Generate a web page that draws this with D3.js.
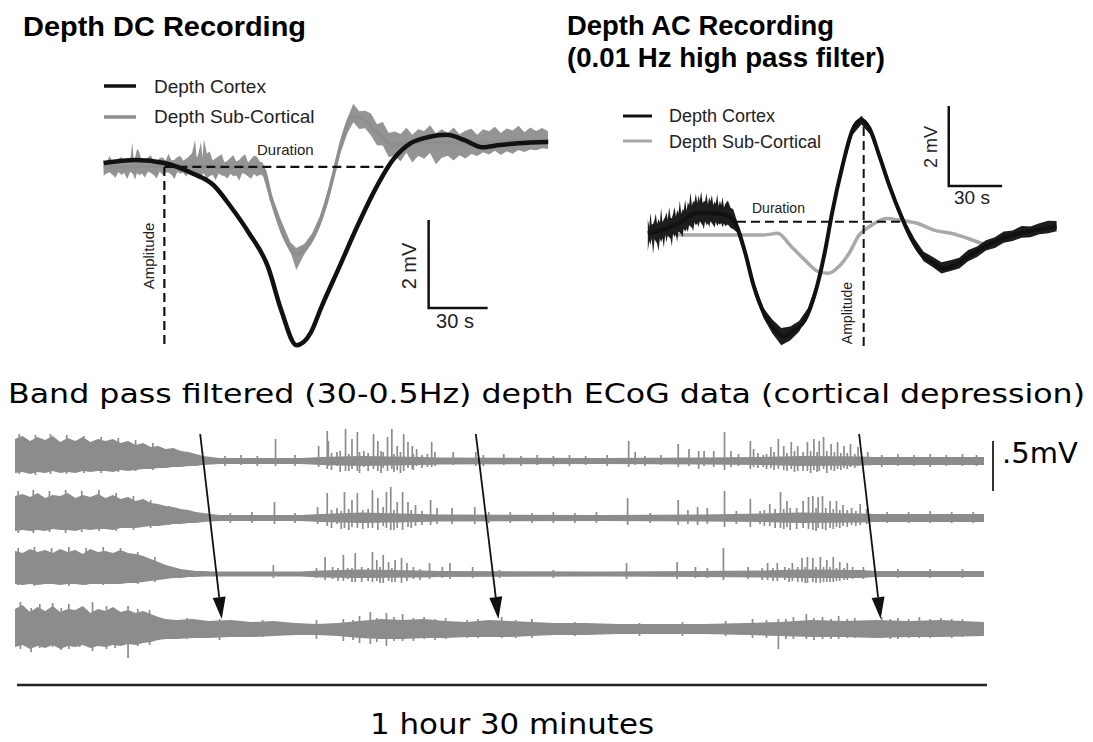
<!DOCTYPE html>
<html>
<head>
<meta charset="utf-8">
<script src="https://cdn.jsdelivr.net/npm/d3@7"></script>
<style>
body { margin: 0; background: #fff; }
svg { display: block; font-family: "Liberation Sans", Arial, sans-serif; }
</style>
</head>
<body>
<svg id="fig" width="1093" height="742"></svg>
<script>
// ---- Depth DC recording (time in s, potential in mV) ----
var dcCortex = [[0,0],[16.3,0.07],[30.9,0],[44.9,-0.23],[55.8,-0.5],[64.8,-1.0],[73.9,-1.59],[83.6,-2.36],
  [90.3,-3.34],[98.1,-4.14],[105.3,-3.86],[110.8,-3.27],[119.9,-2.36],[128.9,-1.45],[138.0,-0.61],[147.1,0.07],
  [156.2,0.45],[165.3,0.59],[174.4,0.64],[183.5,0.52],[192.5,0.36],[201.6,0.41],[210.7,0.45],[226.1,0.48]];
var dcSub = [[0,-0.09],[20,-0.08],[40,-0.06],[60,-0.1],[80.8,-0.11],[85.4,-0.84],[92.6,-1.75],[98.1,-2.09],
  [103.5,-1.91],[109.0,-1.45],[112.6,-1.0],[117.1,-0.23],[121.7,0.59],[126.2,1.05],[130.8,1.02],[136.2,0.82],
  [141.7,0.59],[147.1,0.41],[152.6,0.45],[165.3,0.48],[183.5,0.45],[201.6,0.48],[226.1,0.52]];
// noise band around the sub-cortical trace: [t, up, down]
var dcSubBand = [[0,.15,.2],[1.5,.1,.15],[3,.25,.12],[4.5,.12,.18],[6,.12,.25],[7.5,.18,.12],[9,.22,.18],
  [10.5,.12,.14],[12,.18,.28],[13.5,.14,.12],[14.6,.55,.15],[15.3,.16,.2],[16,.2,.3],[17,.4,.14],[18,.35,.2],
  [19.5,.12,.16],[21,.15,.25],[22.5,.2,.12],[24,.25,.15],[25.5,.1,.2],[27,.12,.28],[28.5,.18,.12],[30,.2,.2],
  [31.5,.12,.15],[33,.28,.15],[34.5,.12,.2],[36,.14,.3],[37.5,.2,.14],[39,.22,.18],[40.5,.12,.16],[42,.16,.25],
  [43.5,.22,.12],[45,.3,.2],[46.5,.6,.15],[47.3,.2,.22],[48,.25,.3],[49.5,.55,.2],[50.3,.2,.18],[51,.62,.15],
  [52.5,.3,.28],[54,.35,.2],[55.5,.15,.18],[57,.2,.3],[58.5,.25,.14],[60,.3,.18],[61.5,.12,.2],[63,.15,.25],
  [64.5,.22,.14],[66,.28,.2],[67.5,.14,.18],[69,.18,.3],[70.5,.25,.12],[72,.3,.15],[73.5,.12,.2],[75,.2,.25],
  [76.5,.28,.14],[78,.25,.2],[79.5,.14,.16],[81,.15,.15],[85,.12,.1],[90,.15,.15],[95,.1,.12],[98,.15,.35],
  [102,.12,.12],[106,.1,.1],[110,.12,.12],[115,.1,.1],[120,.15,.12],[124,.2,.15],[127,.3,.12],[130,.15,.25],
  [133,.25,.15],[136,.3,.2],[139,.18,.3],[142,.35,.18],[145,.2,.35],[148,.3,.25],[151,.22,.4],[154,.35,.22],
  [157,.18,.45],[160,.3,.3],[163,.25,.38],[166,.38,.25],[169,.2,.5],[172,.3,.35],[175,.22,.3],[178,.35,.4],
  [181,.2,.28],[184,.28,.35],[187,.32,.25],[190,.18,.3],[193,.3,.22],[196,.25,.28],[199,.35,.2],[202,.2,.3],
  [205,.3,.22],[208,.25,.28],[211,.35,.2],[214,.2,.25],[217,.3,.2],[220,.22,.22],[223,.28,.18],[226,.2,.2]];

// ---- Depth AC recording (time in s, potential in mV) ----
var acCortex = [[0,-0.29],[8.0,-0.21],[17.5,-0.04],[27.1,0.21],[36.7,0.21],[46.2,0.12],[50.1,-0.12],[54.8,-0.79],
  [59.6,-1.62],[65.3,-2.29],[71.1,-2.67],[75.8,-2.87],[82.5,-2.71],[88.3,-2.46],[94.0,-1.79],[99.7,-0.71],
  [103.5,0.21],[109.3,1.38],[115.0,2.29],[119.8,2.54],[124.6,2.33],[130.3,1.62],[136.0,0.87],[141.7,0.21],
  [147.5,-0.37],[153.2,-0.79],[160.8,-1.04],[166.6,-1.17],[174.3,-1.04],[180.0,-0.87],[189.6,-0.62],
  [199.1,-0.42],[208.7,-0.29],[218.2,-0.21],[229.7,-0.12]];
var acSub = [[15.6,-0.33],[27.1,-0.33],[46.2,-0.33],[65.3,-0.33],[73.0,-0.29],[80.6,-0.62],[88.3,-0.96],
  [95.9,-1.25],[101.6,-1.29],[107.4,-1.12],[113.1,-0.79],[118.8,-0.33],[124.6,-0.12],[134.1,0.08],[141.7,0.04],
  [151.3,-0.04],[160.8,-0.21],[170.4,-0.29],[180.0,-0.42],[187.6,-0.54],[191.5,-0.58]];
var acCortexBand = [[0,.35,.45],[0.8,.15,.2],[1.5,.5,.3],[2.2,.2,.15],[3,.2,.55],[3.8,.3,.18],[4.5,.45,.25],
  [5.2,.18,.3],[6,.3,.5],[6.8,.2,.2],[7.5,.55,.3],[8.2,.2,.2],[9,.25,.45],[9.8,.3,.15],[10.5,.4,.35],[11.2,.2,.2],
  [12,.5,.25],[12.8,.22,.3],[13.5,.2,.5],[14.2,.3,.2],[15,.45,.3],[15.8,.2,.25],[16.5,.35,.45],[17.2,.25,.2],
  [18,.55,.25],[18.8,.2,.3],[19.5,.3,.4],[20.2,.25,.2],[21,.5,.3],[21.8,.2,.25],[22.5,.4,.35],[23.2,.3,.2],
  [24,.6,.25],[24.8,.25,.3],[25.5,.35,.4],[26.2,.3,.2],[27,.5,.3],[27.8,.25,.25],[28.5,.45,.35],[29.2,.3,.2],
  [30,.55,.25],[30.8,.25,.3],[31.5,.3,.4],[32.2,.3,.2],[33,.5,.3],[33.8,.22,.25],[34.5,.4,.35],[35.2,.3,.2],
  [36,.45,.25],[36.8,.2,.3],[37.5,.3,.35],[38.2,.25,.2],[39,.5,.3],[39.8,.2,.22],[40.5,.35,.25],[41.2,.25,.2],
  [42,.45,.3],[42.8,.2,.2],[43.5,.3,.25],[45,.4,.2],[46.5,.25,.25],[48,.3,.2],[50,.15,.15],[55,.1,.1],[60,.12,.1],
  [65,.1,.15],[70,.15,.2],[75,.18,.25],[80,.15,.2],[85,.12,.15],[90,.1,.1],[95,.08,.08],[100,.08,.08],
  [105,.08,.08],[110,.1,.1],[115,.12,.12],[120,.12,.1],[125,.1,.1],[130,.08,.08],[135,.08,.08],[140,.1,.1],
  [145,.1,.1],[150,.12,.1],[155,.1,.14],[160,.14,.12],[165,.12,.16],[170,.15,.12],[175,.12,.15],[180,.16,.12],
  [185,.12,.14],[190,.15,.11],[195,.12,.15],[200,.16,.12],[205,.12,.14],[210,.17,.12],[215,.12,.15],
  [220,.16,.12],[225,.18,.13],[229.7,.14,.12]];

// ---- Band pass filtered ECoG (time in min, amplitude in mV): envelope [t, up, down] ----
var ecogRow1Env = [[0,.22,.12],[0.7,.25,.11],[1.4,.2,.13],[2.1,.24,.11],[2.8,.21,.12],[3.5,.25,.1],[4.2,.19,.12],
  [4.9,.23,.11],[5.6,.2,.12],[6.3,.24,.1],[7.0,.19,.11],[7.7,.22,.1],[8.4,.2,.1],[9.1,.22,.11],[9.8,.18,.09],
  [10.5,.2,.1],[11.2,.16,.09],[11.9,.18,.08],[12.6,.14,.08],[13.3,.15,.07],[14.0,.12,.07],[14.7,.13,.06],
  [15.4,.1,.06],[16.1,.09,.05],[16.8,.07,.05],[17.5,.05,.04],[18.2,.04,.035],[19,.03,.03],[26.5,.03,.03],
  [28.4,.04,.04],[32.1,.05,.05],[37.7,.04,.04],[39.5,.035,.035],[54.4,.03,.03],[63.7,.035,.035],[69.3,.04,.04],
  [73.0,.05,.05],[78.6,.045,.045],[79.9,.04,.04],[90,.04,.04]];
var ecogRow2Env = [[0,.22,.13],[0.7,.24,.12],[1.4,.21,.13],[2.1,.25,.12],[2.8,.2,.13],[3.5,.23,.11],[4.2,.22,.12],
  [4.9,.25,.12],[5.6,.2,.13],[6.3,.23,.11],[7.0,.21,.12],[7.7,.24,.11],[8.4,.2,.11],[9.1,.23,.12],[9.8,.19,.1],
  [10.5,.21,.1],[11.2,.17,.1],[11.9,.19,.09],[12.6,.15,.08],[13.3,.14,.08],[14.0,.12,.07],[14.7,.11,.06],
  [15.4,.09,.06],[16.1,.08,.05],[16.8,.06,.05],[17.5,.05,.04],[18.2,.04,.035],[19,.03,.03],[26.5,.03,.03],
  [28.4,.04,.04],[32.1,.055,.05],[37.7,.04,.04],[39.5,.035,.035],[54.4,.03,.03],[63.7,.035,.035],[69.3,.045,.04],
  [73.0,.055,.05],[78.6,.045,.045],[79.9,.04,.04],[90,.04,.04]];
var ecogRow3Env = [[0,.23,.1],[0.7,.21,.11],[1.4,.25,.1],[2.1,.22,.11],[2.8,.24,.1],[3.5,.21,.1],[4.2,.25,.11],
  [4.9,.22,.1],[5.6,.24,.1],[6.3,.2,.11],[7.0,.25,.1],[7.7,.22,.1],[8.4,.23,.1],[9.1,.21,.1],[9.8,.24,.1],
  [10.5,.21,.09],[11.2,.2,.09],[11.9,.18,.08],[12.6,.15,.07],[13.3,.12,.06],[14.0,.09,.05],[14.7,.07,.04],
  [15.4,.05,.04],[16.1,.04,.03],[16.8,.03,.03],[17.5,.03,.025],[18.2,.025,.025],[26.5,.025,.025],[28.4,.035,.035],
  [32.1,.045,.04],[37.7,.035,.035],[39.5,.03,.03],[54.4,.025,.025],[63.7,.03,.03],[69.3,.035,.035],[73.0,.045,.04],
  [78.6,.04,.04],[79.9,.03,.03],[90,.03,.03]];
var ecogRow4Env = [[0,.2,.18],[0.7,.24,.16],[1.4,.17,.2],[2.1,.22,.17],[2.8,.18,.19],[3.5,.23,.16],[4.2,.17,.2],
  [4.9,.2,.17],[5.6,.19,.18],[6.3,.23,.16],[7.0,.16,.19],[7.7,.2,.17],[8.4,.18,.18],[9.1,.22,.16],[9.8,.17,.17],
  [10.5,.19,.15],[11.2,.16,.16],[11.9,.18,.14],[12.6,.15,.13],[13.3,.12,.11],[14.0,.1,.1],[15,.09,.1],
  [16.5,.1,.09],[18,.08,.09],[20,.09,.08],[22,.07,.08],[24,.08,.07],[26,.06,.06],[28,.05,.06],[30,.06,.07],
  [32,.08,.09],[34,.1,.1],[36,.09,.1],[38,.1,.09],[40,.08,.09],[42,.07,.08],[44,.09,.08],[46,.08,.08],
  [48,.07,.07],[50,.06,.06],[53,.06,.06],[56,.05,.05],[60,.05,.05],[64,.05,.05],[68,.06,.06],[71,.07,.07],
  [74,.09,.08],[77,.08,.08],[80,.09,.09],[83,.08,.08],[86,.09,.08],[90,.07,.07]];

// spikes [t, up, down]
var ecogRow1Spikes = [[0.4,.27,.13],[1.9,.26,.14],[3.3,.27,.13],[4.8,.26,.13],[6.4,.25,.12],[8.0,.24,.12],
  [9.6,.23,.11],[11.2,.21,.1],[12.8,.18,.09],[19.5,.05,.05],[21,.06,.04],[22.5,.05,.05],[24.2,.22,.05],
  [26,.06,.05],[28.2,.15,.06],[29.0,.30,.08],[29.1,.20,.05],[29.4,.08,.09],[29.9,.09,.05],[30.2,.1,.11],
  [30.7,.32,.10],[31.0,.07,.1],[31.3,.22,.08],[31.8,.29,.10],[32.0,.09,.12],[32.4,.10,.06],[32.8,.08,.1],
  [33.3,.27,.08],[33.7,.20,.10],[34.0,.1,.12],[34.2,.09,.07],[34.6,.24,.10],[35.0,.32,.08],[35.2,.07,.11],
  [35.5,.15,.09],[35.8,.09,.12],[36.1,.27,.10],[36.5,.19,.07],[36.9,.15,.08],[37.0,.07,.09],[37.3,.12,.05],
  [37.8,.06,.07],[38.3,.07,.06],[38.7,.19,.06],[39.0,.09,.05],[40.7,.09,.04],[42.8,.09,.05],[43.5,.06,.05],
  [45.4,.07,.04],[47,.05,.05],[48.5,.06,.04],[50,.05,.05],[51.5,.06,.05],[53,.05,.04],[55,.06,.05],
  [57.0,.20,.06],[57.6,.09,.04],[58.5,.05,.05],[60,.06,.04],[61.6,.17,.06],[62.6,.12,.05],[63.5,.10,.08],
  [64.0,.10,.05],[64.9,.10,.06],[65.9,.29,.09],[66.5,.10,.06],[67.2,.07,.05],[68.3,.20,.08],[68.6,.12,.06],
  [69.0,.08,.07],[69.5,.06,.06],[69.8,.07,.08],[70.2,.14,.07],[70.5,.09,.09],[70.9,.22,.08],[71.4,.15,.09],
  [71.7,.08,.1],[72.1,.19,.08],[72.4,.1,.11],[72.7,.15,.10],[73.2,.09,.1],[73.6,.19,.10],[73.9,.1,.12],
  [74.2,.22,.09],[74.5,.09,.11],[74.7,.20,.10],[75.1,.24,.08],[75.4,.1,.12],[75.8,.17,.09],[76.1,.09,.1],
  [76.4,.19,.08],[76.7,.08,.09],[77.0,.15,.07],[77.3,.08,.08],[77.6,.17,.06],[78.0,.07,.07],[78.3,.14,.05],
  [79.2,.09,.04],[80.5,.06,.06],[82,.07,.05],[83.5,.06,.05],[85,.07,.06],[86.5,.06,.05],[88,.07,.05],[89.3,.06,.05]];
var ecogRow2Spikes = [[0.3,.27,.15],[1.7,.28,.15],[3.2,.27,.14],[4.7,.28,.15],[6.2,.27,.14],[7.8,.28,.13],
  [9.4,.25,.13],[11.0,.22,.12],[12.6,.18,.1],[14.3,.12,.07],[20,.05,.05],[22,.06,.05],[24.1,.16,.06],
  [26,.05,.05],[28.1,.11,.06],[29.0,.25,.08],[29.4,.08,.1],[29.9,.10,.06],[30.3,.07,.11],[30.6,.26,.10],
  [31.0,.09,.12],[31.3,.18,.09],[31.8,.25,.10],[32.3,.08,.11],[32.8,.09,.1],[33.2,.28,.10],[33.7,.20,.12],
  [34.2,.11,.08],[34.5,.26,.10],[34.9,.31,.12],[35.2,.08,.12],[35.5,.16,.10],[36.0,.26,.12],[36.5,.16,.09],
  [36.8,.08,.1],[37.2,.13,.08],[37.8,.07,.07],[38.6,.18,.07],[39.2,.10,.06],[40.6,.10,.06],[42.7,.11,.06],
  [44,.06,.05],[46,.06,.05],[48,.05,.05],[50,.06,.05],[52,.05,.05],[54,.06,.05],[56.9,.20,.07],[59,.05,.05],
  [61.6,.18,.07],[62.5,.08,.06],[63.4,.11,.07],[64.3,.10,.06],[65.9,.27,.09],[67,.07,.06],[68.3,.19,.09],
  [69.2,.07,.06],[69.6,.08,.08],[70.1,.14,.08],[70.6,.09,.1],[71.1,.26,.10],[71.4,.09,.11],[71.7,.17,.09],
  [72.0,.10,.12],[72.6,.1,.11],[73.2,.17,.10],[73.7,.21,.11],[74.1,.22,.12],[74.4,.1,.13],[74.6,.21,.10],
  [75.0,.22,.11],[75.3,.1,.12],[75.7,.17,.10],[76.0,.09,.11],[76.3,.17,.09],[76.6,.08,.1],[76.9,.13,.08],
  [77.3,.08,.09],[77.7,.10,.07],[78.1,.07,.08],[78.5,.14,.07],[79.1,.09,.06],[81,.06,.05],[83,.06,.05],
  [85,.07,.05],[87,.06,.05],[89,.06,.05]];
var ecogRow3Spikes = [[0.3,.26,.11],[1.8,.27,.12],[3.4,.26,.1],[5.0,.27,.12],[6.6,.26,.11],[8.2,.27,.11],
  [9.8,.26,.1],[11.4,.22,.1],[13.0,.17,.08],[24.0,.09,.04],[28.0,.06,.04],[28.8,.17,.06],[29.5,.07,.05],
  [30.0,.06,.07],[30.5,.19,.07],[30.9,.06,.05],[31.3,.06,.08],[31.6,.21,.08],[32.2,.07,.08],[32.8,.06,.07],
  [33.2,.22,.08],[33.6,.14,.07],[33.9,.07,.09],[34.2,.19,.09],[34.7,.12,.07],[35.0,.06,.08],[35.3,.14,.08],
  [35.9,.16,.09],[36.4,.11,.07],[37.0,.07,.05],[37.6,.05,.06],[38.5,.11,.05],[39.7,.07,.04],[40.4,.11,.05],
  [42.5,.07,.04],[45,.04,.04],[50,.04,.04],[56.8,.11,.05],[61.5,.12,.05],[63.2,.07,.04],[64.3,.06,.04],
  [65.8,.26,.06],[68.1,.07,.05],[69.4,.06,.06],[69.9,.11,.06],[70.4,.06,.07],[70.8,.11,.07],[71.5,.07,.06],
  [71.9,.06,.08],[72.2,.11,.07],[72.7,.07,.08],[73.1,.16,.08],[73.4,.07,.09],[73.6,.17,.09],[74.1,.16,.08],
  [74.4,.07,.09],[74.8,.17,.09],[75.1,.07,.08],[75.4,.14,.08],[75.7,.07,.08],[76.0,.17,.08],[76.3,.06,.07],
  [76.6,.12,.07],[77.0,.06,.06],[77.3,.11,.06],[77.8,.07,.05],[78.8,.07,.05],[82,.05,.04],[85,.05,.04],[88,.05,.04]];
var ecogRow4Spikes = [[0.5,.27,.2],[1.5,.21,.23],[2.3,.25,.19],[3.5,.26,.18],[4.3,.21,.21],[5.0,.25,.2],
  [6.0,.21,.18],[7.2,.27,.22],[8.5,.23,.2],[9.3,.2,.19],[10.5,.23,.29],[11.4,.2,.17],[12.5,.19,.16],[16,.11,.1],
  [19,.1,.11],[23,.09,.08],[28,.09,.1],[30.5,.1,.12],[31.4,.09,.11],[32,.13,.14],[33.0,.17,.15],[33.6,.11,.13],
  [34.5,.16,.17],[35.2,.12,.12],[36.0,.15,.12],[37,.11,.12],[38,.12,.1],[39,.1,.11],[40,.11,.1],[42,.09,.09],
  [43,.1,.09],[45.2,.12,.09],[46.5,.09,.09],[48,.1,.09],[52,.07,.07],[58,.06,.07],[62,.07,.07],[66,.08,.07],
  [68.5,.1,.09],[69.8,.09,.09],[70.9,.1,.2],[71.6,.1,.1],[72.3,.12,.1],[73.5,.15,.1],[74.2,.11,.11],[75,.12,.1],
  [75.8,.1,.1],[76.5,.13,.1],[77.3,.1,.09],[78,.11,.09],[80.5,.12,.09],[81.3,.1,.1],[82,.11,.1],[83,.1,.09],
  [84,.12,.09],[85,.1,.09],[86,.11,.08],[87,.1,.09],[88,.1,.08]];

// arrows: [top time, tip time] in min
var arrowTimes = [[17.2, 19.2], [42.8, 44.9], [78.4, 80.4]];

var svg = d3.select("#fig");

function valueAt(series, t) {
    var i = d3.bisector(function(d) { return d[0]; }).left(series, t);
    if (i <= 0) return series[0][1];
    if (i >= series.length) return series[series.length - 1][1];
    var a = series[i - 1], b = series[i];
    return a[1] + (b[1] - a[1]) * (t - a[0]) / (b[0] - a[0]);
}

function drawTrace(g, series, x, y, color, width) {
    var line = d3.line().x(d => x(d[0])).y(d => y(d[1])).curve(d3.curveMonotoneX);
    g.append("path").datum(series)
        .attr("d", line)
        .attr("fill", "none")
        .attr("stroke", color)
        .attr("stroke-width", width)
        .attr("stroke-linejoin", "round");
}

// noise band drawn around a trace
function drawBand(g, series, band, x, y, color) {
    var pts = band.filter(d => d[0] >= series[0][0] && d[0] <= series[series.length - 1][0]);
    var area = d3.area()
        .x(d => x(d[0]))
        .y0(d => y(valueAt(series, d[0]) - d[2]))
        .y1(d => y(valueAt(series, d[0]) + d[1]));
    g.append("path").datum(pts).attr("d", area).attr("fill", color).attr("opacity", 0.95);
}

// ================= DC panel =================
var xDC = d3.scaleLinear().domain([0, 226.1]).range([103.6, 548.2]);
var yDC = d3.scaleLinear().domain([0, -2]).range([163, 251]);
var dc = svg.append("g");

dc.append("text").attr("x", 23).attr("y", 36)
    .attr("font-size", 28).attr("font-weight", "bold")
    .attr("textLength", 283).attr("lengthAdjust", "spacingAndGlyphs")
    .text("Depth DC Recording");

dc.append("line").attr("x1", 104).attr("x2", 136).attr("y1", 86).attr("y2", 86)
    .attr("stroke", "#111").attr("stroke-width", 3.5);
dc.append("line").attr("x1", 104).attr("x2", 136).attr("y1", 117).attr("y2", 117)
    .attr("stroke", "#8e8e8e").attr("stroke-width", 3.5);
dc.append("text").attr("x", 154).attr("y", 93).attr("font-size", 19).attr("fill", "#222").text("Depth Cortex");
dc.append("text").attr("x", 154).attr("y", 123).attr("font-size", 19).attr("fill", "#222").text("Depth Sub-Cortical");

drawBand(dc, dcSub, dcSubBand, xDC, yDC, "#8e8e8e");
drawTrace(dc, dcSub, xDC, yDC, "#8e8e8e", 3.5);
drawTrace(dc, dcCortex, xDC, yDC, "#111", 4.5);

// duration / amplitude markers
dc.append("line").attr("x1", xDC(30.9)).attr("x2", xDC(145.3)).attr("y1", yDC(-0.09)).attr("y2", yDC(-0.09))
    .attr("stroke", "#111").attr("stroke-width", 2.2).attr("stroke-dasharray", "9,5");
dc.append("line").attr("x1", xDC(30.9)).attr("x2", xDC(30.9)).attr("y1", yDC(-0.09)).attr("y2", yDC(-4.14))
    .attr("stroke", "#111").attr("stroke-width", 2.2).attr("stroke-dasharray", "9,5");
dc.append("text").attr("x", 257).attr("y", 155).attr("font-size", 15).attr("fill", "#222").text("Duration");
dc.append("text").attr("transform", "translate(154,256) rotate(-90)")
    .attr("text-anchor", "middle").attr("font-size", 15).attr("fill", "#222").text("Amplitude");

// scale bar 2 mV / 30 s
dc.append("path")
    .attr("d", `M${xDC(165.3)},${yDC(-1.295)} V${yDC(-3.295)} H${xDC(195.3)}`)
    .attr("fill", "none").attr("stroke", "#111").attr("stroke-width", 2.5);
dc.append("text").attr("transform", "translate(416,266) rotate(-90)")
    .attr("text-anchor", "middle").attr("font-size", 20).attr("fill", "#222").text("2 mV");
dc.append("text").attr("x", 455).attr("y", 328).attr("text-anchor", "middle")
    .attr("font-size", 20).attr("fill", "#222").text("30 s");

// ================= AC panel =================
var xAC = d3.scaleLinear().domain([0, 229.7]).range([647.8, 1056.6]);
var yAC = d3.scaleLinear().domain([0, -2]).range([221.7, 301.7]);
var ac = svg.append("g");

ac.append("text").attr("x", 567).attr("y", 35)
    .attr("font-size", 27).attr("font-weight", "bold")
    .attr("textLength", 267).attr("lengthAdjust", "spacingAndGlyphs")
    .text("Depth AC Recording");
ac.append("text").attr("x", 567).attr("y", 67)
    .attr("font-size", 27).attr("font-weight", "bold")
    .attr("textLength", 318).attr("lengthAdjust", "spacingAndGlyphs")
    .text("(0.01 Hz high pass filter)");

ac.append("line").attr("x1", 623).attr("x2", 652).attr("y1", 116).attr("y2", 116)
    .attr("stroke", "#111").attr("stroke-width", 3);
ac.append("line").attr("x1", 623).attr("x2", 652).attr("y1", 141).attr("y2", 141)
    .attr("stroke", "#a9a9a9").attr("stroke-width", 3);
ac.append("text").attr("x", 669).attr("y", 122).attr("font-size", 18).attr("fill", "#222").text("Depth Cortex");
ac.append("text").attr("x", 669).attr("y", 148).attr("font-size", 18).attr("fill", "#222").text("Depth Sub-Cortical");

drawTrace(ac, acSub, xAC, yAC, "#a9a9a9", 3.5);
drawBand(ac, acCortex, acCortexBand, xAC, yAC, "#111");
drawTrace(ac, acCortex, xAC, yAC, "#111", 4);

ac.append("line").attr("x1", xAC(50.1)).attr("x2", xAC(141.7)).attr("y1", yAC(0)).attr("y2", yAC(0))
    .attr("stroke", "#111").attr("stroke-width", 2).attr("stroke-dasharray", "9,5");
ac.append("line").attr("x1", xAC(121.3)).attr("x2", xAC(121.3)).attr("y1", yAC(2.37)).attr("y2", yAC(-3.21))
    .attr("stroke", "#111").attr("stroke-width", 2).attr("stroke-dasharray", "9,5");
ac.append("text").attr("x", 752).attr("y", 213).attr("font-size", 14).attr("fill", "#222").text("Duration");
ac.append("text").attr("transform", "translate(852,313) rotate(-90)")
    .attr("text-anchor", "middle").attr("font-size", 14).attr("fill", "#222").text("Amplitude");

ac.append("path")
    .attr("d", `M${xAC(169.1)},${yAC(2.89)} V${yAC(0.89)} H${xAC(199.1)}`)
    .attr("fill", "none").attr("stroke", "#111").attr("stroke-width", 2.5);
ac.append("text").attr("transform", "translate(937,147) rotate(-90)")
    .attr("text-anchor", "middle").attr("font-size", 18).attr("fill", "#222").text("2 mV");
ac.append("text").attr("x", 972).attr("y", 204).attr("text-anchor", "middle")
    .attr("font-size", 19).attr("fill", "#222").text("30 s");

// ================= ECoG band pass rows =================
var ecog = svg.append("g");
ecog.append("text").attr("x", 8).attr("y", 403)
    .attr("font-family", "'DejaVu Sans', Verdana, sans-serif").attr("font-size", 27)
    .attr("textLength", 1077).attr("lengthAdjust", "spacingAndGlyphs")
    .text("Band pass filtered (30-0.5Hz) depth ECoG data (cortical depression)");

var xE = d3.scaleLinear().domain([0, 90]).range([15, 984]);
var rows = [
    {env: ecogRow1Env, spikes: ecogRow1Spikes, center: 461},
    {env: ecogRow2Env, spikes: ecogRow2Spikes, center: 518},
    {env: ecogRow3Env, spikes: ecogRow3Spikes, center: 574},
    {env: ecogRow4Env, spikes: ecogRow4Spikes, center: 629}
];
var ecogColor = "#8c8c8c";

rows.forEach(function(r) {
    var yE = d3.scaleLinear().domain([-0.25, 0.25]).range([r.center + 25, r.center - 25]);
    var area = d3.area().x(d => xE(d[0])).y0(d => yE(-d[2])).y1(d => yE(d[1]));
    ecog.append("path").datum(r.env).attr("d", area).attr("fill", ecogColor);
    ecog.append("g").selectAll("line").data(r.spikes).enter().append("line")
        .attr("x1", d => xE(d[0])).attr("x2", d => xE(d[0]))
        .attr("y1", d => yE(d[1])).attr("y2", d => yE(-d[2]))
        .attr("stroke", ecogColor).attr("stroke-width", 1.7);
});

// .5 mV bar
var yBar = d3.scaleLinear().domain([0, 0.5]).range([491, 441]);
ecog.append("line").attr("x1", 993).attr("x2", 993).attr("y1", yBar(0)).attr("y2", yBar(0.5))
    .attr("stroke", "#333").attr("stroke-width", 2);
ecog.append("text").attr("x", 1002).attr("y", 463)
    .attr("font-family", "'DejaVu Sans', Verdana, sans-serif").attr("font-size", 29).text(".5mV");

// arrows marking the cortical depression
var arrowTop = 434, arrowTip = 619;
arrowTimes.forEach(function(a) {
    var x1 = xE(a[0]), x2 = xE(a[1]);
    var dx = x2 - x1, dy = arrowTip - arrowTop, len = Math.sqrt(dx * dx + dy * dy);
    var ux = dx / len, uy = dy / len, hl = 22, hw = 6.5;
    var bx = x2 - ux * hl, by = arrowTip - uy * hl;
    ecog.append("line").attr("x1", x1).attr("y1", arrowTop).attr("x2", bx).attr("y2", by)
        .attr("stroke", "#111").attr("stroke-width", 1.8);
    ecog.append("path")
        .attr("d", `M${x2},${arrowTip} L${bx - uy * hw},${by + ux * hw} L${bx + uy * hw},${by - ux * hw} Z`)
        .attr("fill", "#111");
});

// time bar
ecog.append("line").attr("x1", xE(0) + 2).attr("x2", xE(90) + 3).attr("y1", 685).attr("y2", 685)
    .attr("stroke", "#222").attr("stroke-width", 2.5);
ecog.append("text").attr("x", 512).attr("y", 734).attr("text-anchor", "middle")
    .attr("font-family", "'DejaVu Sans', Verdana, sans-serif").attr("font-size", 29)
    .attr("textLength", 284).attr("lengthAdjust", "spacingAndGlyphs")
    .text("1 hour 30 minutes");
</script>
</body>
</html>
